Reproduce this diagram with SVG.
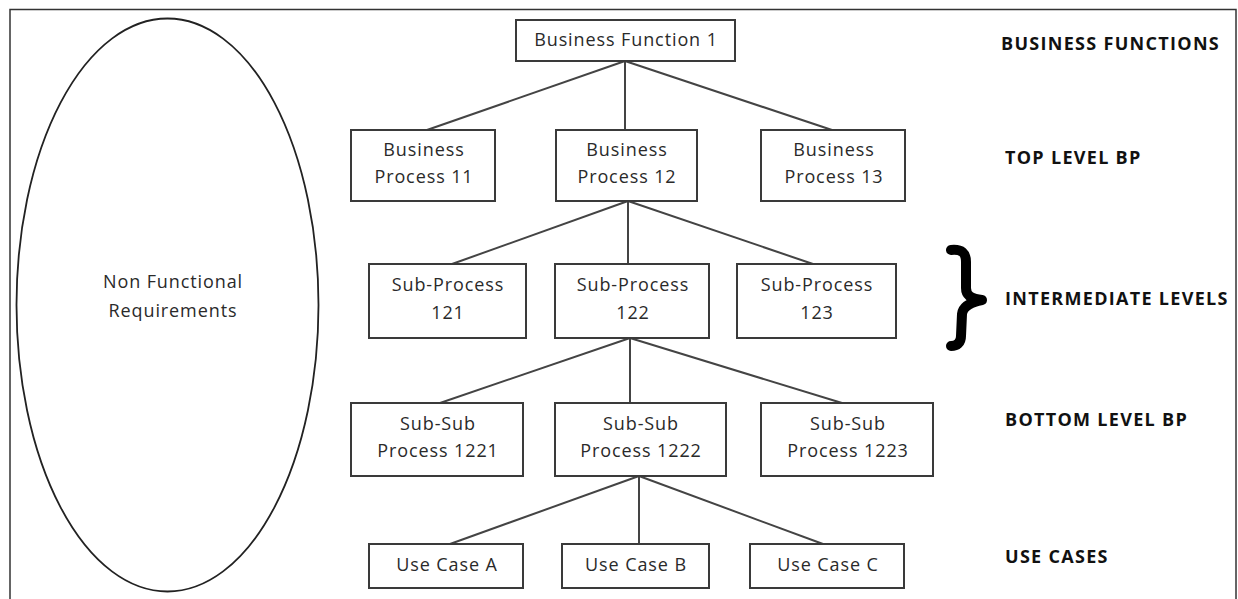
<svg xmlns="http://www.w3.org/2000/svg" width="1238" height="599" viewBox="0 0 1238 599">
<style>
.frame{fill:#fff;stroke:#333;stroke-width:1.5}
.ell{fill:#fff;stroke:#222;stroke-width:1.8}
.box{fill:#fff;stroke:#3a3a3a;stroke-width:2}
.conn line{stroke:#444;stroke-width:2}
.t{font-family:"Open Sans","Liberation Sans",sans-serif;font-size:18px;letter-spacing:0.9px;fill:#2a2a2a;text-anchor:middle}
.lbl{font-family:"Open Sans","Liberation Sans",sans-serif;font-size:18px;font-weight:bold;letter-spacing:1.3px;fill:#111}
.brace{fill:none;stroke:#000;stroke-width:10;stroke-linecap:round;stroke-linejoin:round}
</style>
<rect x="0" y="0" width="1238" height="599" fill="#fff"/>
<rect class="frame" x="10" y="9.5" width="1226" height="600"/>

<g id="nfr">
<ellipse class="ell" cx="167.5" cy="305" rx="151" ry="286.5"/>
<text class="t" x="173" y="288">Non Functional</text>
<text class="t" x="173" y="317">Requirements</text>
</g>

<g class="conn" id="connectors">
<line x1="625" y1="61" x2="427" y2="130"/>
<line x1="625" y1="61" x2="625" y2="130"/>
<line x1="625" y1="61" x2="832" y2="130"/>
<line x1="628" y1="201" x2="452" y2="264"/>
<line x1="628" y1="201" x2="628" y2="264"/>
<line x1="628" y1="201" x2="813" y2="264"/>
<line x1="630" y1="338" x2="440" y2="403"/>
<line x1="630" y1="338" x2="630" y2="403"/>
<line x1="630" y1="338" x2="842" y2="403"/>
<line x1="639" y1="476" x2="450" y2="544"/>
<line x1="639" y1="476" x2="639" y2="544"/>
<line x1="639" y1="476" x2="823" y2="544"/>
</g>

<g id="bf1"><rect class="box" x="516" y="20" width="219" height="41"/><text class="t" x="626" y="46">Business Function 1</text></g>

<g id="bp11"><rect class="box" x="351" y="130" width="144" height="71"/><text class="t" x="424" y="156">Business</text><text class="t" x="424" y="183">Process 11</text></g>
<g id="bp12"><rect class="box" x="556" y="130" width="141" height="71"/><text class="t" x="627" y="156">Business</text><text class="t" x="627" y="183">Process 12</text></g>
<g id="bp13"><rect class="box" x="761" y="130" width="144" height="71"/><text class="t" x="834" y="156">Business</text><text class="t" x="834" y="183">Process 13</text></g>

<g id="sp121"><rect class="box" x="369" y="264" width="157" height="74"/><text class="t" x="448" y="291">Sub-Process</text><text class="t" x="448" y="319">121</text></g>
<g id="sp122"><rect class="box" x="555" y="264" width="154" height="74"/><text class="t" x="633" y="291">Sub-Process</text><text class="t" x="633" y="319">122</text></g>
<g id="sp123"><rect class="box" x="737" y="264" width="159" height="74"/><text class="t" x="817" y="291">Sub-Process</text><text class="t" x="817" y="319">123</text></g>

<g id="ssp1221"><rect class="box" x="351" y="403" width="172" height="73"/><text class="t" x="438" y="430">Sub-Sub</text><text class="t" x="438" y="457">Process 1221</text></g>
<g id="ssp1222"><rect class="box" x="555" y="403" width="171" height="73"/><text class="t" x="641" y="430">Sub-Sub</text><text class="t" x="641" y="457">Process 1222</text></g>
<g id="ssp1223"><rect class="box" x="761" y="403" width="172" height="73"/><text class="t" x="848" y="430">Sub-Sub</text><text class="t" x="848" y="457">Process 1223</text></g>

<g id="uca"><rect class="box" x="369" y="544" width="154" height="44"/><text class="t" x="447" y="571">Use Case A</text></g>
<g id="ucb"><rect class="box" x="562" y="544" width="147" height="44"/><text class="t" x="636" y="571">Use Case B</text></g>
<g id="ucc"><rect class="box" x="750" y="544" width="154" height="44"/><text class="t" x="828" y="571">Use Case C</text></g>

<g id="labels">
<text class="lbl" x="1001" y="50">BUSINESS FUNCTIONS</text>
<text class="lbl" x="1005" y="164">TOP LEVEL BP</text>
<text class="lbl" x="1005" y="305">INTERMEDIATE LEVELS</text>
<text class="lbl" x="1005" y="426">BOTTOM LEVEL BP</text>
<text class="lbl" x="1005" y="563">USE CASES</text>
</g>

<g id="brace">
<path class="brace" d="M951,250 C962,249 966,253 966,262 L966,288 C966,296 972,299 982,300 C972,302 963,306 962,314 L961,336 C961,343 957,346 951,346"/>
</g>
</svg>
